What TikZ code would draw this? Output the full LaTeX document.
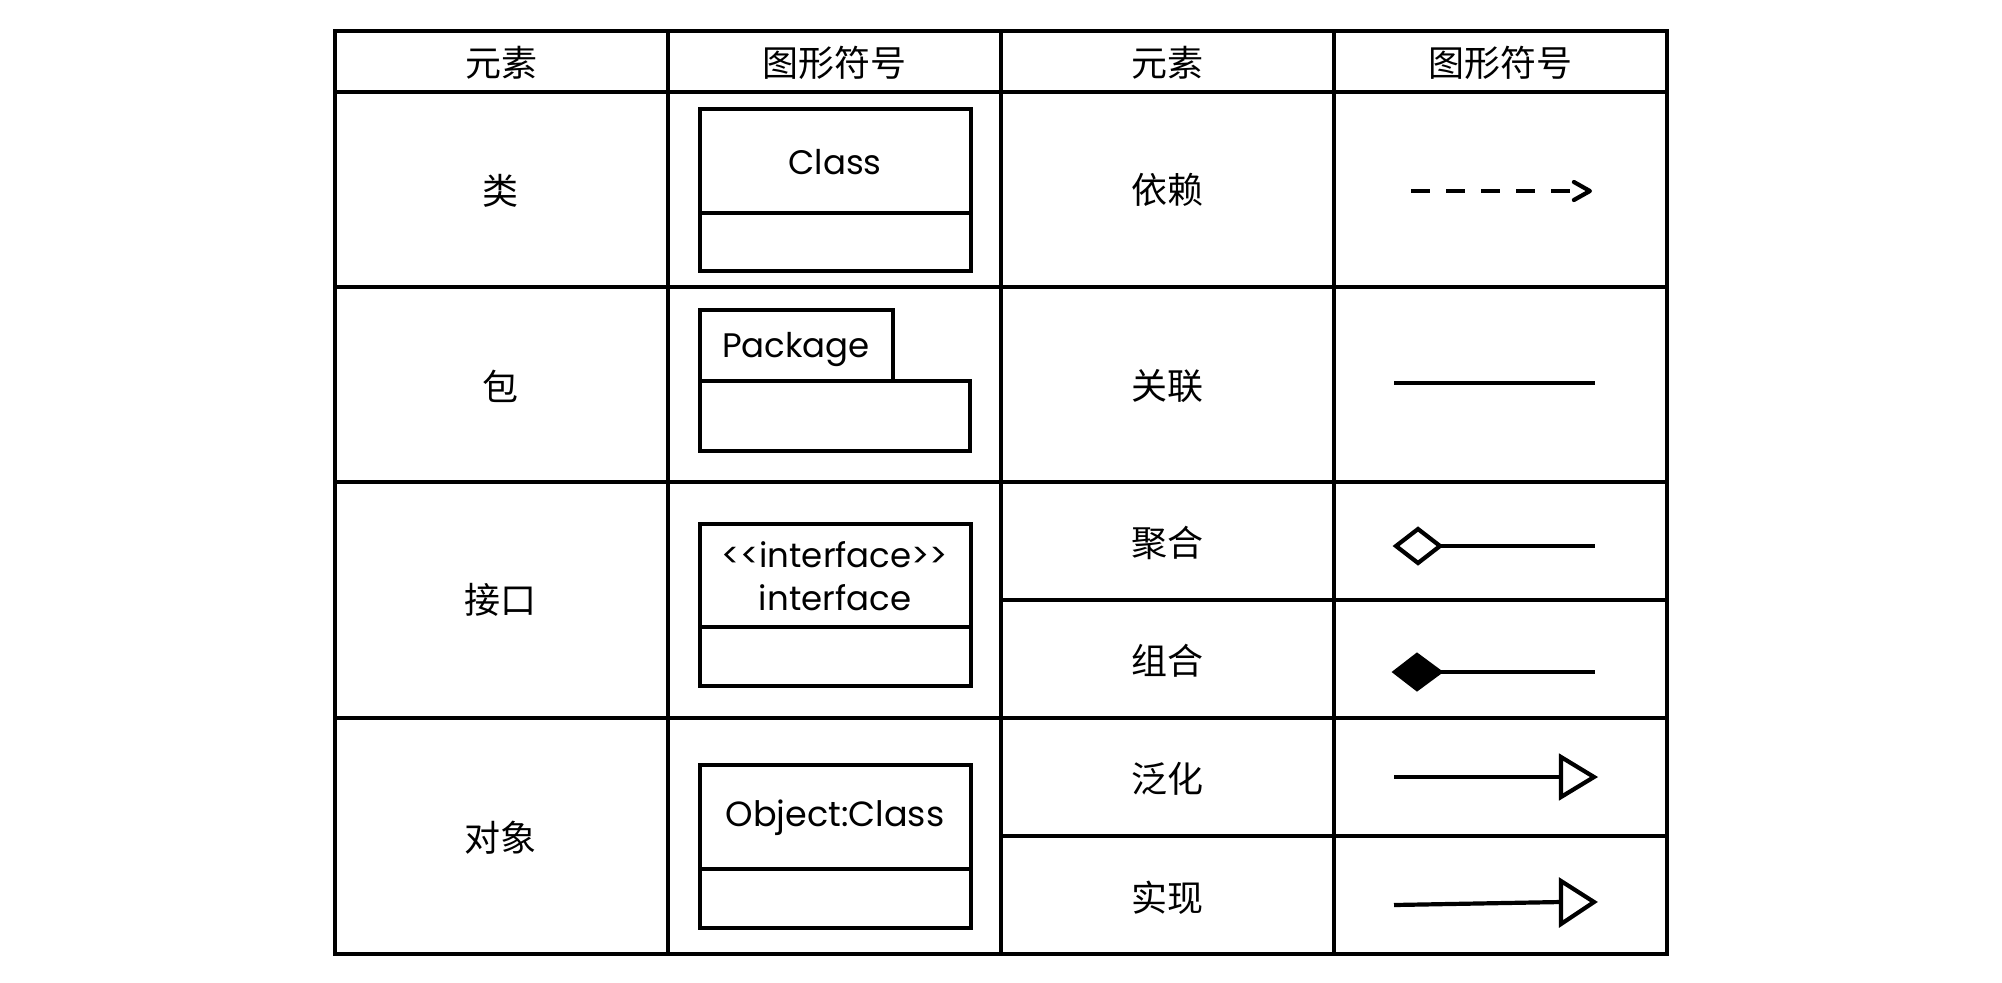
\documentclass[tikz,border=0pt]{standalone}
\usepackage{fontspec}
\setmainfont{Poppins}
\newfontfamily\cjk{Noto Sans CJK SC}
\usetikzlibrary{arrows.meta}
\begin{document}
\begin{tikzpicture}[x=0.5pt,y=-0.5pt, line width=2pt,
  cell/.style={font=\cjk\fontsize{18}{21}\selectfont, inner sep=0pt},
  lbl/.style={font=\fontsize{17}{22}\selectfont, inner sep=0pt, align=center},
  grid/.style={line width=2.1pt},
  umlbox/.style={draw, line width=2.1pt},
  conn/.style={line width=2.1pt},
  hollow/.style={draw, fill=white, line width=2.1pt, line join=miter},
  solidfill/.style={draw, fill=black, line width=2.1pt, line join=miter}]
\useasboundingbox (0,0) rectangle (2002,982);
% table grid
\draw[grid] (335,31) rectangle (1667,954);
\foreach \x in {668,1001,1334} \draw[grid] (\x,31) -- (\x,954);
\foreach \y in {92,287,482,718} \draw[grid] (335,\y) -- (1667,\y);
\foreach \y in {600,836} \draw[grid] (1001,\y) -- (1667,\y);
% headers
\node[cell] (h1) at (501,63) {元素};
\node[cell] (h2) at (834,63) {图形符号};
\node[cell] (h3) at (1167,63) {元素};
\node[cell] (h4) at (1500,63) {图形符号};
% left column
\node[cell] (e1) at (500,191) {类};
\node[cell] (e2) at (500,386) {包};
\node[cell] (e3) at (500,600) {接口};
\node[cell] (e4) at (500,838) {对象};
% third column
\node[cell] (r1) at (1167,190) {依赖};
\node[cell] (r2) at (1167,386) {关联};
\node[cell] (r3) at (1167,543) {聚合};
\node[cell] (r4) at (1167,661) {组合};
\node[cell] (r5) at (1167,779) {泛化};
\node[cell] (r6) at (1167,898) {实现};
% class box
\draw[umlbox] (700,109) rectangle (971,271);
\draw[umlbox] (700,213) -- (971,213);
\node[lbl] (cls) at (835,162) {Class};
% package
\draw[umlbox] (700,381) -- (700,310) -- (893,310) -- (893,381);
\draw[umlbox] (700,381) rectangle (970,451);
\node[lbl] (pkg) at (796,349) {Package};
% interface
\draw[umlbox] (700,524) rectangle (971,686);
\draw[umlbox] (700,627) -- (971,627);
\node[lbl] (ifc1) at (835,555) {{<}{<}interface{>}{>}};
\node[lbl] (ifc2) at (835,598) {interface};
% object
\draw[umlbox] (700,765) rectangle (971,928);
\draw[umlbox] (700,869) -- (971,869);
\node[lbl, font=\fontsize{17.5}{22}\selectfont] (obj) at (835,818) {Object:Class};
% dependency
\coordinate (d1) at (1411,191);
\coordinate (d2) at (1592,191);
\draw[conn, dash pattern=on 9.5pt off 8pt, -{Straight Barb[length=8pt,width=9pt,round]}] (d1) -- (d2);
% association
\coordinate (a1) at (1394,383);
\coordinate (a2) at (1595,383);
\draw[conn] (a1) -- (a2);
% aggregation
\coordinate (g0) at (1396,546);
\coordinate (g1) at (1440,546);
\coordinate (g2) at (1595,546);
\draw[hollow] (g0) -- (1418,529) -- (g1) -- (1418,563) -- cycle;
\draw[conn] (g1) -- (g2);
% composition
\coordinate (c0) at (1395,672);
\coordinate (c1) at (1440,672);
\coordinate (c2) at (1595,672);
\draw[solidfill] (c0) -- (1417,655) -- (c1) -- (1417,689) -- cycle;
\draw[conn] (c1) -- (c2);
% generalization
\coordinate (s1) at (1394,777);
\coordinate (s2) at (1561,777);
\draw[conn] (s1) -- (s2);
\draw[hollow] (1561,757) -- (1594,777) -- (1561,797) -- cycle;
% realization
\coordinate (t1) at (1394,905);
\coordinate (t2) at (1561,902);
\draw[conn] (t1) -- (t2);
\draw[hollow] (1561,881) -- (1594,902) -- (1561,924) -- cycle;
\end{tikzpicture}
\end{document}
